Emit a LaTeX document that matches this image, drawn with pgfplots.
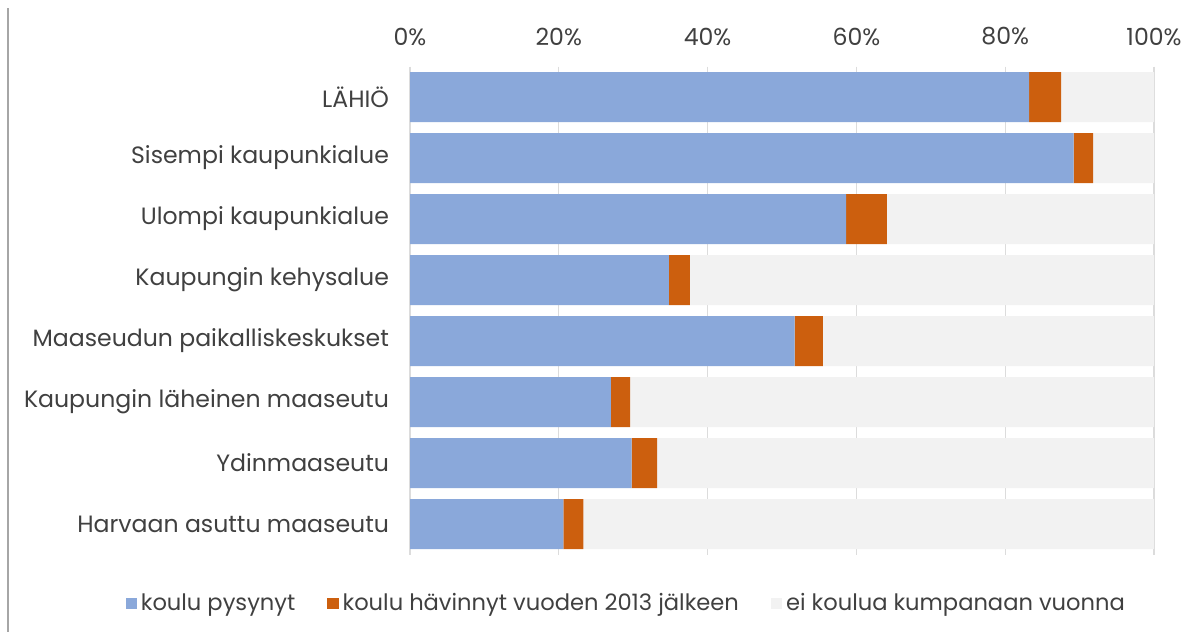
\documentclass[border=0pt]{standalone}
\usepackage{pgfplots}
\pgfplotsset{compat=1.18}
\usepackage{fontspec}
\setmainfont{Poppins}
\definecolor{cblue}{HTML}{8AA8DA}
\definecolor{corange}{HTML}{CC5F0E}
\definecolor{cgray}{HTML}{F2F2F2}
\definecolor{ctext}{HTML}{404040}
\definecolor{cgrid}{HTML}{DCDCDC}
\begin{document}
\begin{tikzpicture}
\begin{axis}[
  scale only axis,
  width=372pt, height=244pt,
  xbar stacked,
  bar width=25pt,
  xmin=0, xmax=100,
  ymin=-0.5, ymax=7.5,
  y dir=reverse,
  ytick={0,...,7},
  yticklabels={LÄHIÖ,Sisempi kaupunkialue,Ulompi kaupunkialue,Kaupungin kehysalue,Maaseudun paikalliskeskukset,Kaupungin läheinen maaseutu,Ydinmaaseutu,Harvaan asuttu maaseutu},
  xtick={0,20,40,60,80,100},
  xticklabels={0\%,20\%,40\%,60\%,80\%,100\%},
  xticklabel pos=right,
  xmajorgrids,
  grid style={cgrid, line width=0.6pt},
  axis line style={draw=none},
  major tick style={draw=none},
  tick label style={font=\fontsize{11.8}{13}\selectfont, text=ctext},
  yticklabel style={xshift=-7pt},
  xticklabel style={yshift=7pt},
  clip=false,
  legend columns=3,
  legend style={at={(rel axis cs:0.292,-0.101)}, anchor=center, draw=none, fill=none,
    font=\fontsize{11.3}{13}\selectfont, text=ctext,
    /tikz/every even column/.append style={column sep=14pt}},
  legend image code/.code={\fill[#1] (0pt,-2.8pt) rectangle (5.6pt,2.8pt);},
]
\addplot[fill=cblue, draw=none] coordinates {(83.2,0) (89.2,1) (58.6,2) (34.8,3) (51.7,4) (27.0,5) (29.8,6) (20.6,7)};
\addplot[fill=corange, draw=none] coordinates {(4.3,0) (2.6,1) (5.5,2) (2.8,3) (3.8,4) (2.6,5) (3.4,6) (2.7,7)};
\addplot[fill=cgray, draw=none] coordinates {(12.5,0) (8.2,1) (35.9,2) (62.4,3) (44.5,4) (70.4,5) (66.8,6) (76.7,7)};
\legend{koulu pysynyt,koulu hävinnyt vuoden 2013 jälkeen,ei koulua kumpanaan vuonna}
\draw[gray!70, line width=0.8pt] (rel axis cs:-0.5403,1.1199) -- (rel axis cs:-0.5403,-0.1588);
\path (rel axis cs:-0.5511,1.1363) rectangle (rel axis cs:1.0497,-0.1588);
\end{axis}
\end{tikzpicture}
\end{document}
